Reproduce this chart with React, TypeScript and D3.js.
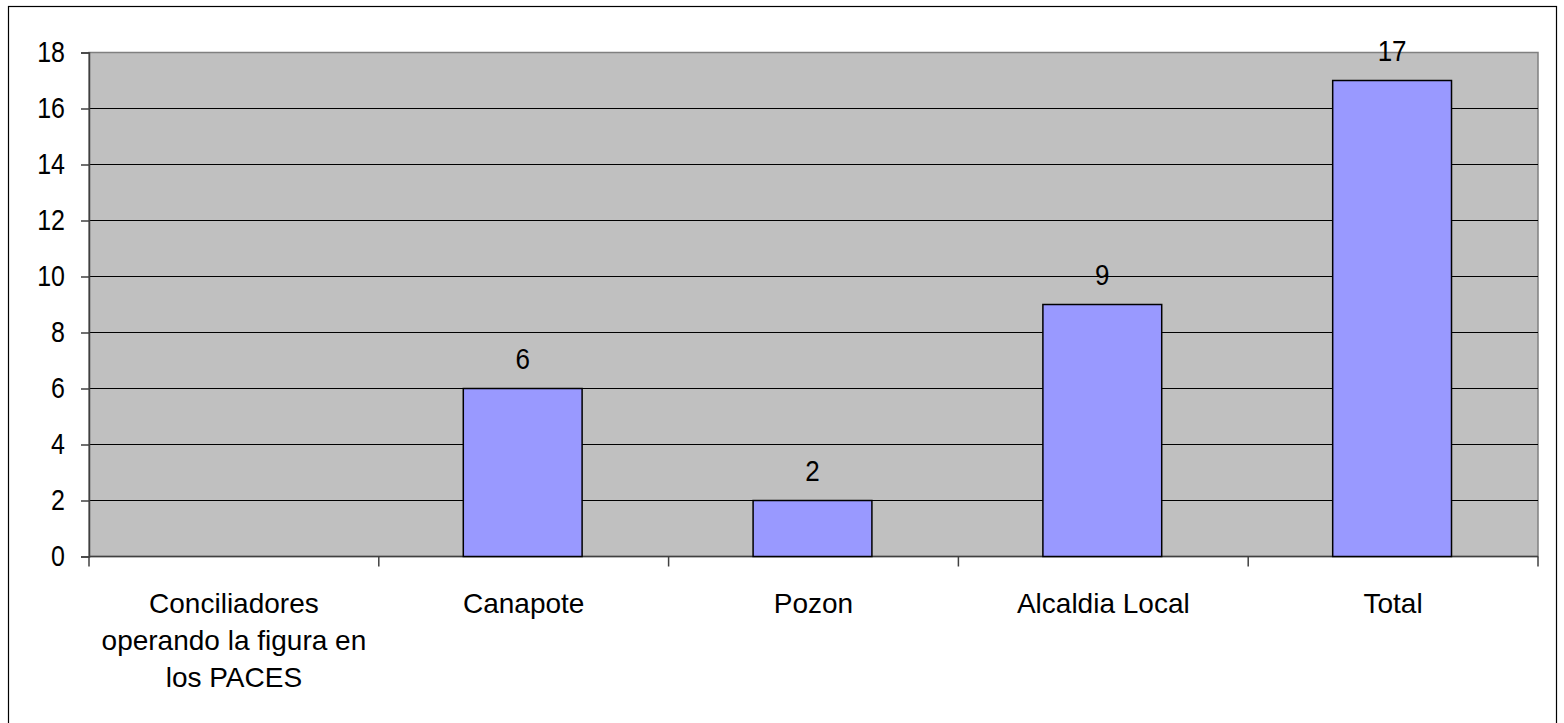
import * as d3 from "d3";
import { useEffect, useRef } from "react";

// categories, each label split into its lines
const categories = [
  ["Conciliadores", "operando la figura en", "los PACES"],
  ["Canapote"],
  ["Pozon"],
  ["Alcaldia Local"],
  ["Total"],
];
const values: (number | null)[] = [null, 6, 2, 9, 17];
const yTicks = [0, 2, 4, 6, 8, 10, 12, 14, 16, 18];

const W = 1564;
const H = 723;
const plot = { left: 89, right: 1538, top: 52.5, bottom: 556.5 };

export default function App() {
  const svgRef = useRef<SVGSVGElement>(null);

  useEffect(() => {
    if (!svgRef.current) return;
    const svg = d3.select(svgRef.current);
    svg.selectAll("*").remove();

    const font = "'Liberation Sans', Arial, sans-serif";

    // outer chart border
    svg
      .append("rect")
      .attr("x", 8.5)
      .attr("y", 6.5)
      .attr("width", 1548)
      .attr("height", 730)
      .attr("fill", "#fff")
      .attr("stroke", "#000")
      .attr("stroke-width", 1.2);

    const x = d3
      .scaleBand<number>()
      .domain(d3.range(categories.length))
      .range([plot.left, plot.right])
      .padding(0);

    const y = d3.scaleLinear().domain([0, 18]).range([plot.bottom, plot.top]);

    // plot area
    svg
      .append("rect")
      .attr("x", plot.left)
      .attr("y", plot.top)
      .attr("width", plot.right - plot.left)
      .attr("height", plot.bottom - plot.top)
      .attr("fill", "#c0c0c0")
      .attr("stroke", "#808080")
      .attr("stroke-width", 1.5);

    // gridlines
    svg
      .append("g")
      .selectAll("line")
      .data(yTicks.filter((t) => t > 0 && t < 18))
      .enter()
      .append("line")
      .attr("x1", plot.left)
      .attr("x2", plot.right)
      .attr("y1", (d) => y(d))
      .attr("y2", (d) => y(d))
      .attr("stroke", "#000")
      .attr("stroke-width", 1.2);

    // y axis
    const yAxis = svg
      .append("g")
      .attr("transform", `translate(${plot.left},0)`)
      .call(d3.axisLeft(y).tickValues(yTicks).tickSize(8).tickPadding(16));
    yAxis.select(".domain").attr("stroke", "#404040").attr("stroke-width", 1.5);
    yAxis.selectAll(".tick line").attr("stroke", "#404040").attr("stroke-width", 1.5);
    yAxis
      .selectAll(".tick text")
      .attr("font-family", font)
      .attr("font-size", 25)
      .attr("transform", "scale(1,1.15)")
      .attr("fill", "#000");

    // x axis line and category ticks
    const bounds = [...x.domain().map((i) => x(i)!), plot.right];
    svg
      .append("line")
      .attr("x1", plot.left)
      .attr("x2", plot.right)
      .attr("y1", plot.bottom)
      .attr("y2", plot.bottom)
      .attr("stroke", "#404040")
      .attr("stroke-width", 1.5);
    svg
      .append("g")
      .selectAll("line")
      .data(bounds)
      .enter()
      .append("line")
      .attr("x1", (d) => d)
      .attr("x2", (d) => d)
      .attr("y1", plot.bottom)
      .attr("y2", plot.bottom + 10)
      .attr("stroke", "#404040")
      .attr("stroke-width", 1.5);

    // bars
    const barW = x.bandwidth() * 0.41;
    const data = values.map((v, i) => ({ v, i })).filter((d) => d.v !== null);
    svg
      .append("g")
      .selectAll("rect")
      .data(data)
      .enter()
      .append("rect")
      .attr("x", (d) => x(d.i)! + (x.bandwidth() - barW) / 2 - 1)
      .attr("y", (d) => y(d.v as number))
      .attr("width", barW)
      .attr("height", (d) => y(0) - y(d.v as number))
      .attr("fill", "#9999ff")
      .attr("stroke", "#000")
      .attr("stroke-width", 1.5);

    // value labels
    svg
      .append("g")
      .selectAll("g")
      .data(data)
      .enter()
      .append("g")
      .attr(
        "transform",
        (d) =>
          `translate(${x(d.i)! + x.bandwidth() / 2 - 1},${y(d.v as number) - 20}) scale(1,1.15)`
      )
      .append("text")
      .attr("text-anchor", "middle")
      .attr("font-family", font)
      .attr("font-size", 26)
      .attr("fill", "#000")
      .text((d) => String(d.v));

    // category labels
    const cat = svg
      .append("g")
      .selectAll("text")
      .data(categories)
      .enter()
      .append("text")
      .attr("text-anchor", "middle")
      .attr("font-family", font)
      .attr("font-size", 28)
      .attr("fill", "#000");
    cat
      .selectAll("tspan")
      .data((d, i) => d.map((line) => ({ line, i })))
      .enter()
      .append("tspan")
      .attr("x", (d) => x(d.i)! + x.bandwidth() / 2)
      .attr("y", (_d, j) => 613 + j * 37)
      .text((d) => d.line);
  }, []);

  return (
    <svg
      ref={svgRef}
      width={W}
      height={H}
      style={{ position: "absolute", left: 0, top: 0, background: "#fff" }}
    />
  );
}
